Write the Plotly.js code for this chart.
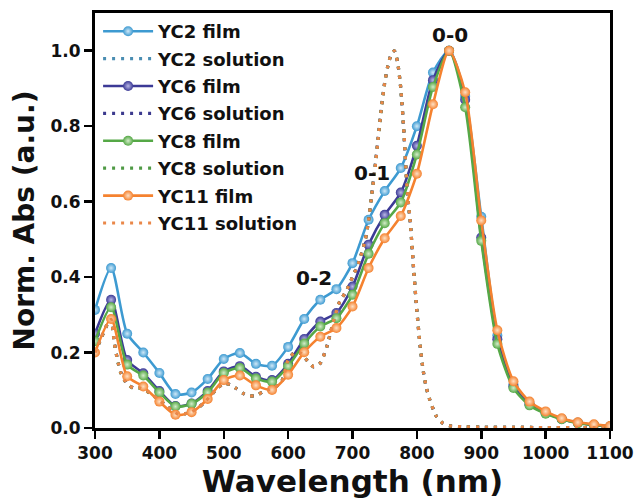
<!DOCTYPE html>
<html><head><meta charset="utf-8">
<script src="https://cdn.plot.ly/plotly-3.0.1.min.js"></script>
<style>html,body{margin:0;padding:0;background:#fff;} #chart{width:637px;height:500px;}</style>
</head><body><div id="chart"></div>
<script>
// ---- data ----
const filmWl = [300,325,350,375,400,425,450,475,500,525,550,575,600,625,650,675,700,725,750,775,800,825,850,875,900,925,950,975,1000,1025,1050,1075,1100];
const yc2Film  = [0.313,0.424,0.250,0.200,0.146,0.090,0.094,0.130,0.183,0.199,0.170,0.165,0.215,0.289,0.340,0.368,0.437,0.552,0.628,0.689,0.800,0.942,1.000,0.880,0.560,0.245,0.115,0.065,0.040,0.024,0.014,0.008,0.004];
const yc6Film  = [0.250,0.340,0.180,0.145,0.098,0.058,0.065,0.098,0.150,0.164,0.136,0.127,0.170,0.236,0.282,0.305,0.375,0.486,0.565,0.624,0.748,0.922,1.000,0.870,0.505,0.235,0.110,0.062,0.040,0.024,0.014,0.008,0.004];
const yc8Film  = [0.230,0.320,0.168,0.139,0.094,0.057,0.064,0.094,0.146,0.159,0.131,0.123,0.164,0.224,0.269,0.291,0.353,0.462,0.543,0.598,0.725,0.904,1.000,0.850,0.496,0.223,0.106,0.060,0.038,0.023,0.013,0.008,0.004];
const yc11Film = [0.200,0.289,0.137,0.110,0.070,0.035,0.042,0.077,0.127,0.139,0.113,0.101,0.141,0.201,0.242,0.265,0.322,0.424,0.503,0.562,0.674,0.858,1.000,0.890,0.550,0.259,0.124,0.070,0.044,0.026,0.015,0.010,0.005];

const solWl = [300,310,320,325,330,335,340,350,360,370,380,390,400,410,420,430,440,450,460,470,480,490,500,510,520,530,540,550,560,570,580,590,600,610,620,630,640,650,660,670,680,690,700,710,720,725,730,735,740,745,750,755,760,765,770,775,780,785,790,795,800,805,810,815,820,830,840,850,875,900,950,1000,1050,1100];
const yc2Sol  = [0.200,0.240,0.278,0.288,0.225,0.180,0.147,0.116,0.106,0.106,0.098,0.088,0.073,0.060,0.046,0.036,0.038,0.043,0.053,0.068,0.086,0.105,0.118,0.115,0.104,0.092,0.085,0.086,0.095,0.102,0.109,0.123,0.180,0.200,0.198,0.178,0.162,0.172,0.215,0.280,0.335,0.362,0.400,0.440,0.500,0.550,0.620,0.690,0.770,0.850,0.915,0.960,0.990,1.000,0.970,0.900,0.780,0.630,0.540,0.420,0.310,0.220,0.150,0.105,0.075,0.032,0.013,0.006,0.003,0.002,0.002,0.001,0.001,0.001];
const yc6Sol  = [0.200,0.240,0.278,0.288,0.226,0.181,0.148,0.117,0.106,0.106,0.098,0.088,0.073,0.060,0.046,0.036,0.038,0.043,0.053,0.068,0.086,0.105,0.118,0.115,0.104,0.092,0.085,0.086,0.095,0.102,0.109,0.123,0.180,0.200,0.198,0.178,0.162,0.172,0.215,0.280,0.335,0.362,0.400,0.440,0.500,0.550,0.620,0.690,0.770,0.850,0.915,0.960,0.990,1.000,0.970,0.900,0.780,0.630,0.540,0.420,0.310,0.220,0.150,0.105,0.075,0.032,0.013,0.006,0.003,0.002,0.002,0.001,0.001,0.001];
const yc8Sol  = [0.200,0.240,0.278,0.288,0.224,0.180,0.146,0.116,0.105,0.105,0.097,0.087,0.072,0.060,0.046,0.036,0.038,0.043,0.053,0.068,0.086,0.105,0.118,0.115,0.104,0.092,0.085,0.086,0.095,0.102,0.109,0.123,0.180,0.200,0.198,0.178,0.162,0.172,0.215,0.280,0.335,0.362,0.400,0.440,0.500,0.550,0.620,0.690,0.770,0.850,0.915,0.960,0.990,1.000,0.970,0.900,0.780,0.630,0.540,0.420,0.310,0.220,0.150,0.105,0.075,0.032,0.013,0.006,0.003,0.002,0.002,0.001,0.001,0.001];
const yc11Sol = [0.200,0.240,0.278,0.288,0.225,0.180,0.147,0.116,0.106,0.106,0.098,0.088,0.073,0.060,0.046,0.036,0.038,0.043,0.053,0.068,0.086,0.105,0.118,0.115,0.104,0.092,0.085,0.086,0.095,0.102,0.109,0.123,0.180,0.200,0.198,0.178,0.162,0.172,0.215,0.280,0.335,0.362,0.400,0.440,0.500,0.550,0.620,0.690,0.770,0.850,0.915,0.960,0.990,1.000,0.970,0.900,0.780,0.630,0.540,0.420,0.310,0.220,0.150,0.105,0.075,0.032,0.013,0.006,0.003,0.002,0.002,0.001,0.001,0.001];

const seriesNames = ['YC2 film','YC2 solution','YC6 film','YC6 solution','YC8 film','YC8 solution','YC11 film','YC11 solution'];
const peakLabels = ['0-0','0-1','0-2'];
const peakLabelX = [851,731,640];
const peakLabelY = [1.042,0.675,0.398];

// ---- styling ----
const FONT = 'DejaVu Sans, Liberation Sans, Arial, sans-serif';
const filmColors = ['#3d9ad1','#3c3a96','#55a846','#f5822f'];
const filmHi     = ['#cfe8f7','#b9b8e6','#d3ecc9','#fde0c4'];
const solColors  = ['#4a8db2','#3c3a8e','#4f9a45','#ea8749'];

function film(name, y, i){
  return {x: filmWl, y: y, name: name, type:'scatter', mode:'lines+markers', legendgroup: 'g'+name,
    line:{color: filmColors[i], width: 2.6, shape:'spline', smoothing: 0.7},
    marker:{size: 10, color: filmColors[i], gradient:{type:'radial', color: filmHi[i]}, line:{width:0}}};
}
function sol(name, y, i){
  return {x: solWl, y: y, name: name, type:'scatter', mode:'lines', legendgroup: 'g'+name,
    line:{color: solColors[i], width: 3.2, dash:'3px,6px', shape:'spline', smoothing: 0.6}};
}

const data = [
  film(seriesNames[0], yc2Film, 0), sol(seriesNames[1], yc2Sol, 0),
  film(seriesNames[2], yc6Film, 1), sol(seriesNames[3], yc6Sol, 1),
  film(seriesNames[4], yc8Film, 2), sol(seriesNames[5], yc8Sol, 2),
  film(seriesNames[6], yc11Film, 3), sol(seriesNames[7], yc11Sol, 3)
];

const axisCommon = {
  showline:true, linewidth:3, linecolor:'#000', mirror:true,
  ticks:'outside', ticklen:8, tickwidth:2.5, tickcolor:'#000',
  showgrid:false, zeroline:false,
  tickfont:{family:FONT, size:17, color:'#111', weight:'bold'}
};

const layout = {
  width:637, height:500,
  margin:{l:95, r:27, t:13, b:72},
  paper_bgcolor:'#fff', plot_bgcolor:'#fff',
  showlegend:true,
  legend:{x:0.006, y:1, xanchor:'left', yanchor:'top', bgcolor:'rgba(0,0,0,0)', borderwidth:0,
    font:{family:FONT, size:18, color:'#111', weight:'bold'}, traceorder:'grouped', tracegroupgap:1, itemwidth:50},
  xaxis: Object.assign({}, axisCommon, {range:[300,1100], tick0:300, dtick:100,
    title:{text:'Wavelength (nm)', font:{family:FONT, size:31, color:'#111', weight:'bold'}, standoff:5}}),
  yaxis: Object.assign({}, axisCommon, {range:[0,1.1], tick0:0, dtick:0.2, tickformat:'.1f',
    title:{text:'Norm. Abs (a.u.)', font:{family:FONT, size:28, color:'#111', weight:'bold'}, standoff:8}}),
  annotations: peakLabels.map((t,i)=>({x:peakLabelX[i], y:peakLabelY[i], xref:'x', yref:'y', text:t, showarrow:false,
    font:{family:FONT, size:20, color:'#111', weight:'bold'}}))
};

Plotly.newPlot('chart', data, layout, {staticPlot:true, displayModeBar:false});
</script></body></html>
